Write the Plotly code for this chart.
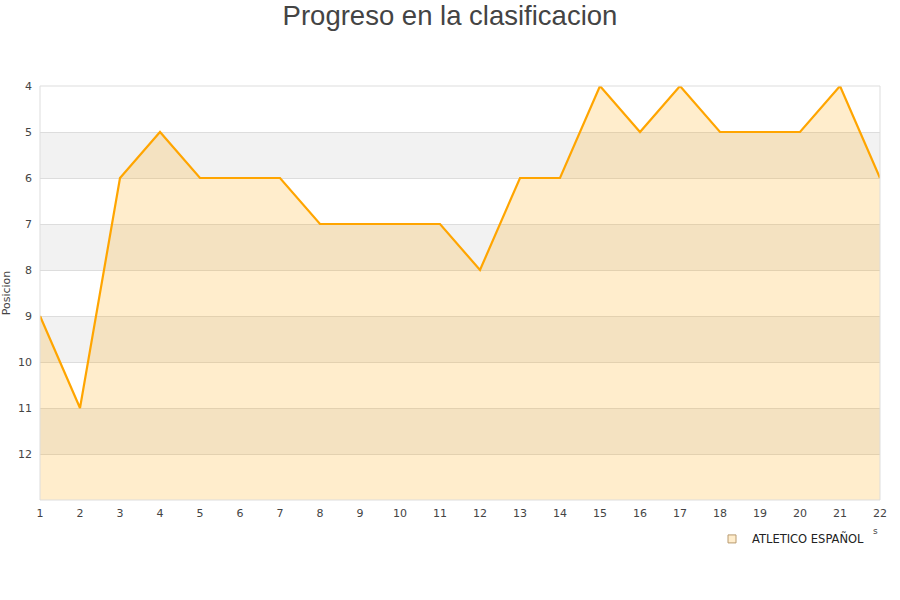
import plotly.graph_objects as go

jornadas = list(range(1, 23))
posiciones = [9, 11, 6, 5, 6, 6, 6, 7, 7, 7, 7, 8, 6, 6, 4, 5, 4, 5, 5, 5, 4, 6]
equipo = "ATLETICO ESPAÑOL"
y_ticks = [4, 5, 6, 7, 8, 9, 10, 11, 12]
y_min, y_max = 4, 13
bandas_grises = [(5, 6), (7, 8), (9, 10), (11, 12)]

fig = go.Figure()
# baseline at bottom of axis
fig.add_trace(go.Scatter(x=jornadas, y=[y_max] * len(jornadas), mode="lines",
                         line=dict(width=0), showlegend=False, hoverinfo="skip"))
fig.add_trace(go.Scatter(x=jornadas, y=posiciones, mode="lines", fill="tonexty",
                         fillcolor="rgba(255,165,0,0.2)",
                         line=dict(color="#ffa500", width=2.2), showlegend=False, name=equipo))
# legend entry
fig.add_trace(go.Scatter(x=[None], y=[None], mode="markers", name=equipo,
                         marker=dict(symbol="square", size=8, color="#ffedcc",
                                     line=dict(color="#b89a70", width=1))))

shapes = []
for a, b in bandas_grises:
    shapes.append(dict(type="rect", xref="paper", yref="y", x0=0, x1=1, y0=a, y1=b,
                       fillcolor="#f2f2f2", line=dict(width=0), layer="below"))
shapes.append(dict(type="rect", xref="paper", yref="paper", x0=0, x1=1, y0=0, y1=1,
                   line=dict(color="#dddddd", width=1), layer="above"))

fig.update_layout(
    width=900, height=600,
    paper_bgcolor="white", plot_bgcolor="white",
    margin=dict(l=40, r=20, t=86, b=100, autoexpand=False),
    title=dict(text="Progreso en la clasificacion", x=0.5, xanchor="center",
               y=0.975, yanchor="middle",
               font=dict(family="Liberation Sans, Arial", size=27.5, color="#444444")),
    font=dict(family="DejaVu Sans", size=11, color="#444444"),
    shapes=shapes,
    showlegend=True,
    legend=dict(x=0.8, y=-0.094, xanchor="left", yanchor="middle",
                font=dict(family="DejaVu Sans", size=11.5, color="#222222"),
                bgcolor="rgba(0,0,0,0)", itemwidth=30),
    annotations=[dict(text="s", x=1.0, xref="paper", y=-0.075, yref="paper",
                      xanchor="right", yanchor="middle", showarrow=False,
                      font=dict(size=9, color="#444444"))],
)

fig.update_xaxes(range=[1, 22], tickvals=jornadas, ticks="", showgrid=False,
                 zeroline=False, showline=False, automargin=False,
                 ticklabelstandoff=5,
                 tickfont=dict(size=11, color="#444444"))
fig.update_yaxes(range=[y_max, y_min], tickvals=y_ticks, ticks="", showgrid=True,
                 gridcolor="#dddddd", gridwidth=1, zeroline=False, showline=False,
                 automargin=False, ticklabelstandoff=7,
                 title=dict(text="Posicion", font=dict(size=11, color="#444444"), standoff=8),
                 tickfont=dict(size=11, color="#444444"))

fig.write_html("out.html", config={"displayModeBar": False},
               post_script="document.body.style.margin='0';document.body.style.padding='0';")
